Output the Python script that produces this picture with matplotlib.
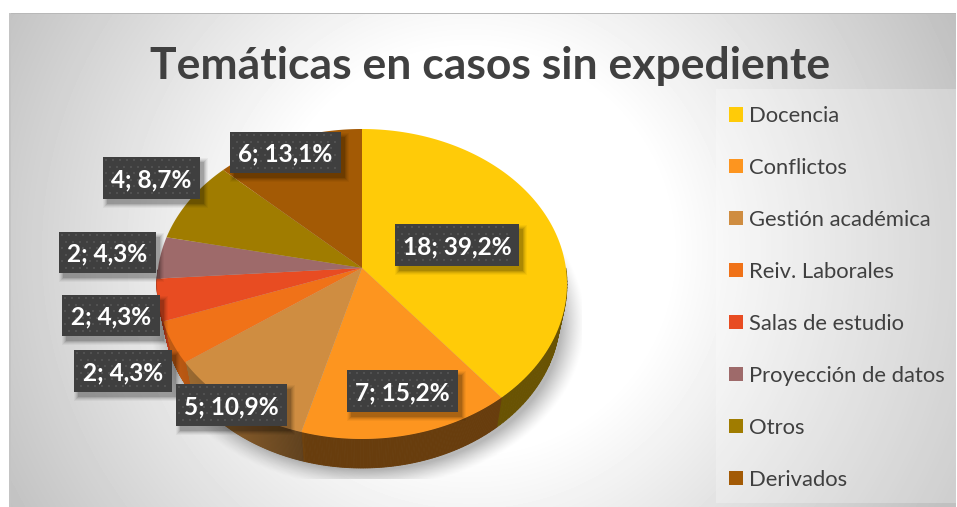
import numpy as np
import matplotlib
matplotlib.use("Agg")
import matplotlib.pyplot as plt
from matplotlib.patches import Rectangle
from matplotlib.path import Path
from matplotlib.colors import to_rgb

categories = ["Docencia", "Conflictos", "Gestión académica", "Reiv. Laborales",
              "Salas de estudio", "Proyección de datos", "Otros", "Derivados"]
values = [18, 7, 5, 2, 2, 2, 4, 6]
percents = ["39,2%", "15,2%", "10,9%", "4,3%", "4,3%", "4,3%", "8,7%", "13,1%"]
colors = ["#ffcb08", "#fd951f", "#cf8d41", "#f07218", "#e84c22", "#9e6a6a", "#a07c00", "#a35a05"]
title = "Temáticas en casos sin expediente"

# layout, in pixels of the reference
W, H = 957, 507
CX, APEX_Y, ELL_Y, RX, RY = 362, 268, 284, 205, 155
BOT_Y, BOT_RX, BOT_RY = 315, 198, 153
label_boxes = [(395, 224, 519, 266), (347, 370, 458, 412), (176, 384, 287, 426), (74, 350, 172, 392),
               (62, 295, 160, 336), (59, 232, 156, 273), (103, 157, 200, 199), (230, 132, 341, 173)]

plt.rcParams["font.family"] = ["Lato", "DejaVu Sans"]
fig = plt.figure(figsize=(W / 100, H / 100), dpi=100, facecolor="white")
ax = fig.add_axes([0, 0, 1, 1])


def top_point(theta):
    """Point of the tilted rim, theta clockwise from the top, seen from the off-centre apex."""
    dx, dy = RX * np.sin(theta), -RY * np.cos(theta)
    off = ELL_Y - APEX_Y
    a = (dx / RX) ** 2 + (dy / RY) ** 2
    b = -2 * dy * off / RY ** 2
    c = (off / RY) ** 2 - 1
    s = (-b + np.sqrt(b * b - 4 * a * c)) / (2 * a)
    return CX + s * dx, APEX_Y + s * dy


def bottom_point(x, y):
    return CX + (x - CX) * BOT_RX / RX, BOT_Y + (y - ELL_Y) * BOT_RY / RY


# background gradient
yy, xx = np.mgrid[13:H, 9:956]
r = np.hypot(xx - 470, yy - 250)
g = 1 - 0.25 * np.clip((r - 200) / 340, 0, 1)
ax.imshow(g, extent=(9, 956, H, 13), cmap="gray", vmin=0, vmax=1, zorder=0, interpolation="bilinear")
ax.add_patch(Rectangle((9, 13), 947, 1.2, fc="#b8b8b8", ec="none", zorder=1))
ax.add_patch(Rectangle((9, 13), 1.5, H - 13, fc="#c4c4c4", ec="none", zorder=1))
# legend panel
ax.add_patch(Rectangle((716, 89), 240, 414, fc="white", alpha=0.25, ec="none", zorder=1))

# soft shadow under the pie
yy, xx = np.mgrid[120:479, 145:582]
d = np.hypot((xx - 367) / 205, (yy - 322) / 156)
sh = np.zeros(d.shape + (4,))
sh[..., 3] = np.clip((1.065 - d) / 0.12, 0, 1) ** 1.3 * 0.28
ax.imshow(sh, extent=(145, 582, 479, 120), zorder=2, interpolation="bilinear")

# pie faces, reshaped to the tilted view
wedges, _ = ax.pie(values, colors=colors, startangle=90, counterclock=False,
                   radius=RX, center=(CX, APEX_Y), frame=True,
                   wedgeprops=dict(linewidth=0, zorder=5))
for w, col in zip(wedges, colors):
    t0, t1 = np.radians(90 - w.theta2), np.radians(90 - w.theta1)
    ts = np.linspace(t0, t1, 120)
    xs, ys = top_point(ts)
    # side wall
    base = np.array(to_rgb(col))
    for i in range(len(ts) - 1):
        if max(ys[i], ys[i + 1]) < 270:
            continue
        bx0, by0 = bottom_point(xs[i], ys[i])
        bx1, by1 = bottom_point(xs[i + 1], ys[i + 1])
        shade = np.interp(xs[i], [165, 300, 305], [0.80, 0.47, 0.41])
        wall = tuple(base * shade)
        ax.fill([xs[i], xs[i + 1], bx1, bx0], [ys[i], ys[i + 1], by1, by0],
                color=wall, lw=0.6, zorder=3)
    verts = np.vstack([[CX, APEX_Y], np.column_stack([xs, ys]), [CX, APEX_Y]])
    w._path = Path(verts)

# data labels
for (x0, y0, x1, y1), v, p in zip(label_boxes, values, percents):
    for grow, a in zip((4, 3, 2, 1, 0), (0.04, 0.05, 0.07, 0.09, 0.12)):
        ax.add_patch(Rectangle((x0 + 4 - grow, y0 + 5 - grow), x1 - x0 + 2 * grow, y1 - y0 + 2 * grow,
                               fc="black", alpha=a, ec="none", zorder=6))
    ax.add_patch(Rectangle((x0, y0), x1 - x0, y1 - y0, fc="#3f3f3f", ec="none", zorder=7))
    dots = [(x0 + 3 + i * 7 + (3.5 if j % 2 else 0), y0 + 3 + j * 6.5)
            for j in range(int((y1 - y0 - 2) / 6.5)) for i in range(int((x1 - x0 - 6) / 7))]
    ax.scatter(*zip(*dots), s=2.2, marker="s", color="#515151", linewidths=0, zorder=8)
    ax.text((x0 + x1) / 2, (y0 + y1) / 2 - 0.5, f"{v}; {p}", color="white", fontsize=17.6,
            fontweight="bold", ha="center", va="center_baseline", zorder=9)

ax.set_xlim(0, W)
ax.set_ylim(H, 0)
ax.set_aspect("equal")
ax.set_axis_off()

fig.text(490 / W, 1 - 79 / H, title, color="#404040", fontsize=32, fontweight="bold",
         ha="center", va="baseline")

fs = 15.85
px = fs * 100 / 72
leg = ax.legend(wedges, categories, loc="upper left", bbox_to_anchor=(729, 106),
                bbox_transform=ax.transData, frameon=False, fontsize=fs, labelcolor="#404040",
                borderpad=0, borderaxespad=0, handlelength=14 / px, handleheight=14 / px,
                handletextpad=6 / px, labelspacing=(52 - px + 2.0) / px)
leg.set_zorder(10)

fig.savefig("out.png", dpi=100)
